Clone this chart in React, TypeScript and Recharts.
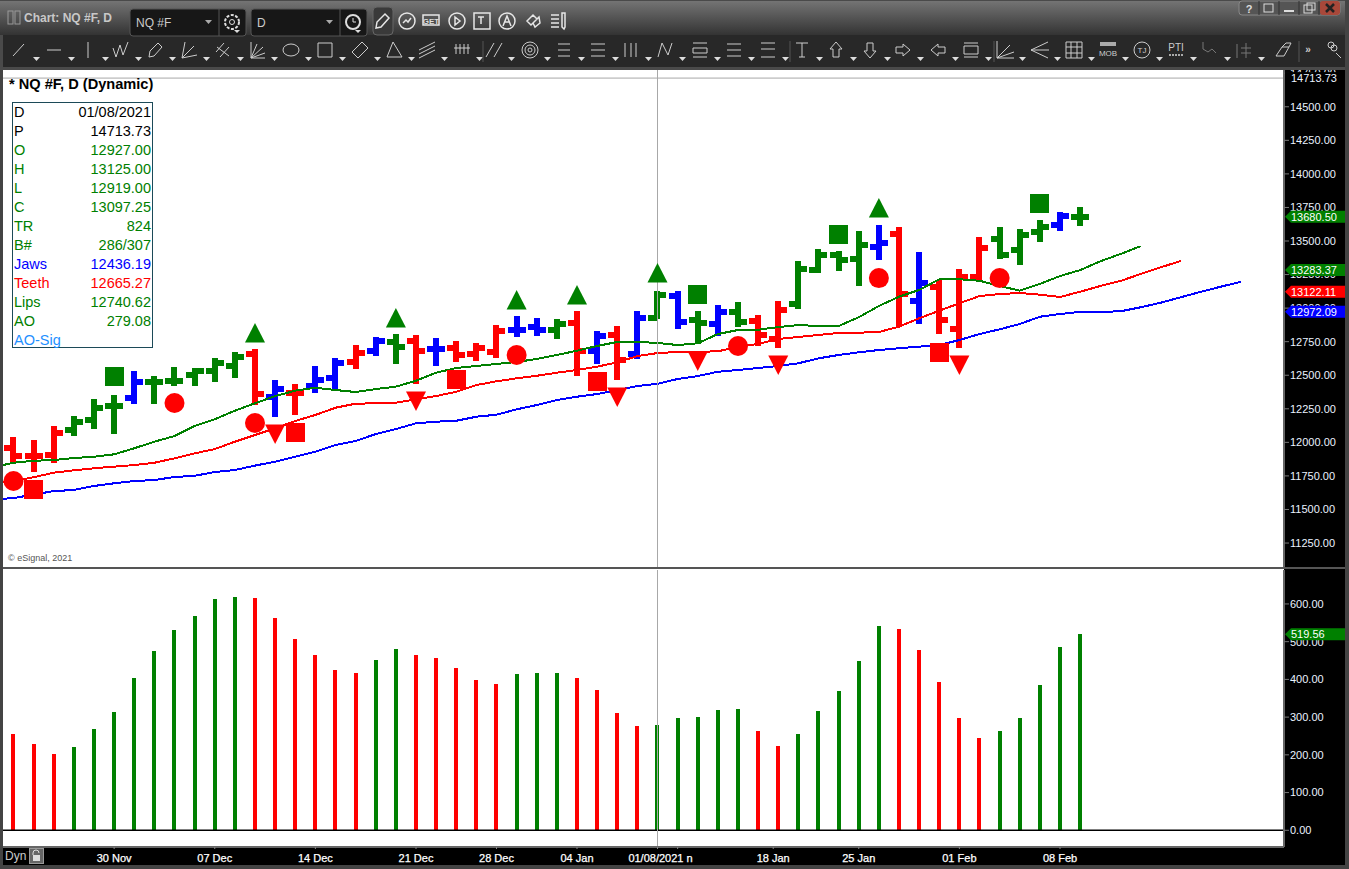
import React from 'react';
import { ComposedChart, Bar, Line, Scatter, Cell, XAxis, YAxis, ReferenceLine, ReferenceDot } from 'recharts';

const FONT = '"Liberation Sans", Arial, sans-serif';

// one label per trading session, bar 0 is 23 Nov
const sessions = [
  '23 Nov', '24 Nov', '25 Nov', '26 Nov', '27 Nov', '30 Nov', '01 Dec', '02 Dec', '03 Dec', '04 Dec', '07 Dec',
  '08 Dec', '09 Dec', '10 Dec', '11 Dec', '14 Dec', '15 Dec', '16 Dec', '17 Dec', '18 Dec', '21 Dec', '22 Dec',
  '23 Dec', '24 Dec', '28 Dec', '29 Dec', '30 Dec', '31 Dec', '04 Jan', '05 Jan', '06 Jan', '07 Jan', '01/08/2021 n',
  '11 Jan', '12 Jan', '13 Jan', '14 Jan', '15 Jan', '18 Jan', '20 Jan', '21 Jan', '22 Jan', '25 Jan', '26 Jan',
  '27 Jan', '28 Jan', '29 Jan', '01 Feb', '02 Feb', '03 Feb', '04 Feb', '05 Feb', '08 Feb', '09 Feb',
];

const highs = [
  12040, 12017, 12122, 12196, 12323, 12353, 12531, 12494, 12561, 12554, 12628, 12673, 12695, 12464, 12435, 12569, 12628, 12725,
  12785, 12807, 12800, 12777, 12755, 12740, 12874, 12941, 12926, 12919, 12978, 12829, 12867, 12978, 13125, 13127, 12978, 13023,
  13046, 12949, 13053, 13351, 13440, 13426, 13575, 13619, 13604, 13418, 13209, 13291, 13530, 13604, 13589, 13656, 13716, 13753,
];
const lows = [
  11846, 11779, 11846, 12047, 12099, 12062, 12286, 12286, 12420, 12420, 12450, 12479, 12278, 12189, 12204, 12368, 12397, 12546,
  12643, 12584, 12435, 12569, 12599, 12606, 12628, 12785, 12792, 12770, 12494, 12584, 12464, 12621, 12919, 12844, 12733, 12792,
  12859, 12718, 12703, 12993, 13262, 13277, 13165, 13358, 12859, 12882, 12807, 12703, 13209, 13366, 13321, 13493, 13575, 13612,
];
const opens = [
  11958, 11898, 11906, 12092, 12166, 12271, 12330, 12450, 12457, 12502, 12531, 12569, 12658, 12338, 12368, 12420, 12479, 12599,
  12680, 12748, 12755, 12695, 12703, 12658, 12673, 12837, 12859, 12837, 12889, 12680, 12800, 12658, 12927, 13090, 12911, 12882,
  12971, 12904, 12770, 13031, 13284, 13396, 13366, 13455, 13552, 13053, 13157, 12844, 13232, 13515, 13433, 13567, 13619, 13680.5,
];
const closes = [
  11898, 11898, 12070, 12152, 12256, 12271, 12450, 12450, 12457, 12531, 12591, 12636, 12360, 12397, 12368, 12464, 12591, 12666,
  12755, 12710, 12680, 12695, 12651, 12703, 12829, 12837, 12837, 12882, 12680, 12792, 12613, 12926, 13097.25, 12897, 12889, 12971,
  12897, 12800, 12986, 13291, 13396, 13358, 13470, 13485, 13105, 13187, 12911, 13232, 13448, 13396, 13545, 13604, 13686, 13680.5,
];
const tones = [
  'r', 'r', 'r', 'g', 'g', 'g', 'b', 'g', 'g', 'g', 'g', 'g', 'r', 'b', 'r', 'b', 'b', 'r',
  'b', 'g', 'r', 'b', 'r', 'r', 'r', 'b', 'b', 'g', 'r', 'b', 'r', 'b', 'g', 'b', 'g', 'b',
  'g', 'r', 'r', 'g', 'g', 'g', 'g', 'b', 'r', 'b', 'r', 'r', 'r', 'g', 'g', 'g', 'b', 'g',
];

// the first value of each line sits one session before bar 0, they run past the last bar
const lips = [
  11815, 11848, 11863, 11868, 11883, 11893, 11911, 11956, 12005, 12047, 12122, 12172, 12236, 12291, 12345, 12385, 12407, 12390, 12375, 12397,
  12415, 12459, 12519, 12554, 12569, 12584, 12599, 12621, 12651, 12683, 12718, 12748, 12748, 12740.62, 12725, 12738, 12807, 12837, 12839, 12859,
  12874, 12867, 12867, 12932, 13016, 13085, 13135, 13215, 13215, 13204, 13165, 13130, 13180, 13239, 13283.37, 13349, 13403, 13461,
];
const teeth = [
  11690, 11712, 11740, 11774, 11792, 11807, 11819, 11831, 11848, 11881, 11918, 11950, 12005, 12055, 12105, 12159, 12204, 12258, 12288, 12291,
  12295, 12321, 12345, 12377, 12427, 12455, 12477, 12496, 12519, 12539, 12564, 12596, 12643, 12665.27, 12673, 12675, 12678, 12713, 12733, 12770,
  12785, 12800, 12815, 12817, 12822, 12862, 12924, 12981, 13036, 13090, 13105, 13113, 13100, 13083, 13122.11, 13165, 13202, 13254, 13304, 13351,
];
const jaws = [
  11575, 11585, 11611, 11637, 11645, 11675, 11695, 11712, 11719, 11742, 11751, 11779, 11794, 11827, 11856, 11893, 11930, 11980, 12010, 12062,
  12099, 12142, 12154, 12161, 12191, 12206, 12246, 12278, 12315, 12340, 12360, 12390, 12420, 12436.19, 12472, 12494, 12526, 12539, 12554, 12569,
  12589, 12626, 12651, 12671, 12688, 12701, 12713, 12725, 12762, 12807, 12842, 12882, 12936, 12956, 12972.09, 12973, 12976, 13006, 13040, 13081,
  13122, 13160, 13197,
];

const aoValues = [
  254, 228, 201, 220, 268, 313, 405, 474, 530, 567, 612, 618, 615, 562, 506, 464, 424, 416, 451, 480, 464, 456, 429, 398, 387, 414, 416,
  416, 405, 371, 310, 276, 279.08, 297, 300, 318, 321, 262, 223, 255, 316, 368, 448, 541, 533, 477, 392, 297, 244, 262, 298, 385, 485, 519.56,
];

const circleMarks = [
  { x: 0, y: 11712 }, { x: 8, y: 12293 }, { x: 12, y: 12144 }, { x: 25, y: 12651 }, { x: 36, y: 12718 }, { x: 43, y: 13224 }, { x: 49, y: 13224 },
];
const redSquares = [
  { x: 1, y: 11652 }, { x: 14, y: 12077 }, { x: 22, y: 12472 }, { x: 29, y: 12457 }, { x: 46, y: 12673 },
];
const greenSquares = [
  { x: 5, y: 12487 }, { x: 34, y: 13105 }, { x: 41, y: 13552 }, { x: 51, y: 13783 },
];
const upTriangles = [
  { x: 12, y: 12815 }, { x: 19, y: 12926 }, { x: 25, y: 13060 }, { x: 28, y: 13098 }, { x: 32, y: 13262 }, { x: 43, y: 13746 },
];
const downTriangles = [
  { x: 13, y: 12062 }, { x: 20, y: 12308 }, { x: 30, y: 12338 }, { x: 34, y: 12606 }, { x: 38, y: 12576 }, { x: 47, y: 12576 },
];

const priceTicks = [11250, 11500, 11750, 12000, 12250, 12500, 12750, 13000, 13250, 13500, 13750, 14000, 14250, 14500, 14750];
const aoTicks = [0, 100, 200, 300, 400, 500, 600];
// 18 Jan sits a little ahead of its bar in the reference, 33 only has a tick mark
const dateTicks = [5, 10, 15, 20, 24, 28, 32, 33, 37.75, 42, 47, 52];

const legendRows = [
  ['D', '01/08/2021', '#000'],
  ['P', '14713.73', '#000'],
  ['O', '12927.00', '#008000'],
  ['H', '13125.00', '#008000'],
  ['L', '12919.00', '#008000'],
  ['C', '13097.25', '#008000'],
  ['TR', '824', '#008000'],
  ['B#', '286/307', '#008000'],
  ['Jaws', '12436.19', '#0000ff'],
  ['Teeth', '12665.27', '#ff0000'],
  ['Lips', '12740.62', '#008000'],
  ['AO', '279.08', '#008000'],
  ['AO-Sig', '', '#1e90ff'],
];

const TONE: Record<string, string> = { r: '#ff0000', g: '#008000', b: '#0000ff' };
const X_DOMAIN: [number, number] = [-0.522, 63.13];
const PRICE_DOMAIN: [number, number] = [11064, 14774];
const AO_DOMAIN: [number, number] = [-44.3, 690];
const CURSOR = 32;

const priceRows = jaws.map((_, i) => {
  const s = i - 1;
  return {
    x: s,
    range: s >= 0 && s < highs.length ? [lows[s], highs[s]] : null,
    high: highs[s],
    low: lows[s],
    open: opens[s],
    close: closes[s],
    tone: tones[s],
    lips: lips[i] ?? null,
    teeth: teeth[i] ?? null,
    jaws: jaws[i] ?? null,
  };
});
const aoRows = aoValues.map((ao, x) => ({ x, ao }));

const OhlcShape = (props: any) => {
  const { x, y, width, height, payload } = props;
  if (!payload || payload.high == null || !height) return null;
  const top = Math.min(y, y + height);
  const h = Math.abs(height);
  const perUnit = h / (payload.high - payload.low);
  const cx = x + width / 2;
  const openY = top + (payload.high - payload.open) * perUnit;
  const closeY = top + (payload.high - payload.close) * perUnit;
  const fill = TONE[payload.tone];
  return (
    <g shapeRendering="crispEdges" fill={fill}>
      <rect x={cx - 3} y={top} width={6} height={h} />
      <rect x={cx - 9} y={openY - 3} width={9} height={6} />
      <rect x={cx} y={closeY - 3} width={9} height={6} />
    </g>
  );
};

const CircleMark = ({ cx, cy }: any) => <circle cx={cx} cy={cy} r={10} fill="#ff0000" />;
const squareMark = (fill: string) => ({ cx, cy }: any) => (
  <rect x={cx - 9.5} y={cy - 9.5} width={19} height={19} fill={fill} shapeRendering="crispEdges" />
);
const UpMark = ({ cx, cy }: any) => <path d={`M${cx} ${cy - 10}L${cx + 10} ${cy + 9.5}H${cx - 10}Z`} fill="#008000" />;
const DownMark = ({ cx, cy }: any) => <path d={`M${cx - 10} ${cy - 9.5}H${cx + 10}L${cx} ${cy + 10}Z`} fill="#ff0000" />;

const priceTag = (value: string, fill: string) => ({ cx, cy }: any) => (
  <g>
    <path d={`M${cx + 1} ${cy}L${cx + 7} ${cy - 6}H${cx + 61}V${cy + 6}H${cx + 7}Z`} fill={fill} />
    <text x={cx + 7} y={cy + 4} fontSize={11} fontFamily={FONT} fill="#fff">{value}</text>
  </g>
);
const plainTag = (value: string) => ({ cx, cy }: any) => (
  <g>
    <rect x={cx + 1} y={cy - 6} width={60} height={13} fill="#000" />
    <text x={cx + 7} y={cy + 4} fontSize={11} fontFamily={FONT} fill="#eaf2ff">{value}</text>
  </g>
);

const axisTick = { fill: '#eaf2ff', fontSize: 11, fontFamily: FONT };

const DateTick = ({ x, y, payload }: any) => {
  const slot = payload.value;
  const label = slot === 33 ? '' : sessions[Math.round(slot)];
  return (
    <text
      x={slot === CURSOR ? x + 3 : x}
      y={y + 10}
      textAnchor="middle"
      fontSize={11}
      fontFamily={FONT}
      fill="#fff"
      stroke="#fff"
      strokeWidth={0.25}
    >
      {label}
    </text>
  );
};

const PriceChart = () => (
  <ComposedChart width={1342} height={498} data={priceRows} margin={{ top: 0, right: 0, bottom: 0, left: 0 }}>
    <XAxis dataKey="x" type="number" domain={X_DOMAIN} allowDataOverflow hide />
    <YAxis
      orientation="right"
      width={61}
      domain={PRICE_DOMAIN}
      allowDataOverflow
      ticks={priceTicks}
      interval={0}
      tickFormatter={(v: number) => v.toFixed(2)}
      tick={axisTick}
      tickSize={5}
      tickMargin={1}
      tickLine={{ stroke: '#777' }}
      axisLine={{ stroke: '#666', strokeWidth: 2 }}
    />
    <Scatter data={downTriangles} dataKey="y" shape={DownMark} isAnimationActive={false} />
    <Line dataKey="jaws" stroke="#0000ff" strokeWidth={2} dot={false} shapeRendering="crispEdges" isAnimationActive={false} />
    <Line dataKey="teeth" stroke="#ff0000" strokeWidth={2} dot={false} shapeRendering="crispEdges" isAnimationActive={false} />
    <Line dataKey="lips" stroke="#008000" strokeWidth={2} dot={false} shapeRendering="crispEdges" isAnimationActive={false} />
    <Bar dataKey="range" barSize={6} shape={OhlcShape} isAnimationActive={false} />
    <Scatter data={upTriangles} dataKey="y" shape={UpMark} isAnimationActive={false} />
    <Scatter data={redSquares} dataKey="y" shape={squareMark('#ff0000')} isAnimationActive={false} />
    <Scatter data={greenSquares} dataKey="y" shape={squareMark('#008000')} isAnimationActive={false} />
    <Scatter data={circleMarks} dataKey="y" shape={CircleMark} isAnimationActive={false} />
    <ReferenceLine y={14713.73} stroke="#a8a8a8" />
    <ReferenceLine x={CURSOR} stroke="#a8a8a8" />
  </ComposedChart>
);

// value tags cover the axis labels, so they go in a layer of their own above the charts
const PriceTags = () => (
  <ComposedChart width={1342} height={498} data={priceRows} margin={{ top: 0, right: 61, bottom: 0, left: 0 }}>
    <XAxis dataKey="x" type="number" domain={X_DOMAIN} allowDataOverflow hide />
    <YAxis domain={PRICE_DOMAIN} allowDataOverflow hide />
    <ReferenceDot x={X_DOMAIN[1]} y={14713.73} r={0} ifOverflow="visible" shape={plainTag('14713.73')} />
    <ReferenceDot x={X_DOMAIN[1]} y={13680.5} r={0} ifOverflow="visible" shape={priceTag('13680.50', '#008000')} />
    <ReferenceDot x={X_DOMAIN[1]} y={13283.37} r={0} ifOverflow="visible" shape={priceTag('13283.37', '#008000')} />
    <ReferenceDot x={X_DOMAIN[1]} y={13122.11} r={0} ifOverflow="visible" shape={priceTag('13122.11', '#ff0000')} />
    <ReferenceDot x={X_DOMAIN[1]} y={12972.09} r={0} ifOverflow="visible" shape={priceTag('12972.09', '#0000ff')} />
  </ComposedChart>
);

const AoChart = () => (
  <ComposedChart width={1342} height={295} data={aoRows} margin={{ top: 0, right: 0, bottom: 0, left: 0 }}>
    <XAxis
      dataKey="x"
      type="number"
      domain={X_DOMAIN}
      allowDataOverflow
      height={18}
      ticks={dateTicks}
      interval={0}
      minTickGap={0}
      tick={DateTick}
      tickSize={2}
      tickMargin={3}
      tickLine={{ stroke: '#888' }}
      axisLine={{ stroke: '#666', strokeWidth: 2 }}
    />
    <YAxis
      orientation="right"
      width={61}
      domain={AO_DOMAIN}
      allowDataOverflow
      ticks={aoTicks}
      interval={0}
      tickFormatter={(v: number) => v.toFixed(2)}
      tick={axisTick}
      tickSize={5}
      tickMargin={1}
      tickLine={{ stroke: '#777' }}
      axisLine={{ stroke: '#666', strokeWidth: 2 }}
    />
    <Bar dataKey="ao" barSize={4} shapeRendering="crispEdges" isAnimationActive={false}>
      {aoRows.map((row, i) => (
        <Cell key={row.x} fill={i > 0 && row.ao >= aoRows[i - 1].ao ? '#008000' : '#ff0000'} />
      ))}
    </Bar>
    <ReferenceLine y={0} stroke="#000" strokeWidth={1.5} />
    <ReferenceLine x={CURSOR} stroke="#a8a8a8" />
  </ComposedChart>
);

const AoTags = () => (
  <ComposedChart width={1342} height={295} data={aoRows} margin={{ top: 0, right: 61, bottom: 18, left: 0 }}>
    <XAxis dataKey="x" type="number" domain={X_DOMAIN} allowDataOverflow hide />
    <YAxis domain={AO_DOMAIN} allowDataOverflow hide />
    <ReferenceDot x={X_DOMAIN[1]} y={519.56} r={0} ifOverflow="visible" shape={priceTag('519.56', '#008000')} />
  </ComposedChart>
);

// toolbar glyphs, drawn around their own centre
const toolIcons: [number, string][] = [
  [19, 'M-6 6L5 -6'],
  [54, 'M-7 0H7'],
  [88, 'M0 -8V8'],
  [121, 'M-8 -2L-5 7L-1 -5L2 5L7 -8'],
  [155, 'M-6 7L-5 1L3 -7L7 -3L-1 6Z'],
  [189, 'M-7 8L-4 -8M-7 8L5 -4M-7 8L8 5'],
  [223, 'M-7 2L1 -7M-3 7L6 -3M-6 -3L6 6'],
  [257, 'M-6 -8V8H8M-6 8L6 -3M-6 8L8 3M-6 8L0 -6'],
  [291, 'M-8 0a8 6 0 1 0 16 0a8 6 0 1 0 -16 0'],
  [325, 'M-7 -7H7V7H-7Z'],
  [360, 'M-8 2L2 -8L8 -2L-2 8Z'],
  [394, 'M-7 7L-1 -8L8 7Z'],
  [427, 'M-8 4L8 -4M-8 0L8 -8M-8 8L8 0'],
  [462, 'M-8 -2H8M-6 -6V4M-2 -6V4M2 -6V4M6 -6V4'],
  [494, 'M-8 7L0 -7M0 7L8 -7'],
  [530, 'M-8 0a8 8 0 1 0 16 0a8 8 0 1 0 -16 0M-5 0a5 5 0 1 0 10 0a5 5 0 1 0 -10 0M-2 0a2 2 0 1 0 4 0a2 2 0 1 0 -4 0'],
  [564, 'M-6 -6H6M-6 0H6M-6 6H6'],
  [598, 'M-7 -6H7M-7 0H7M-7 6H7'],
  [631, 'M-6 -7V7M0 -7V7M5 -7V7'],
  [665, 'M-7 7L-3 -7L3 5L7 -7'],
  [700, 'M-7 -7H7M-7 7H7M-7 -2H7V3H-7Z'],
  [734, 'M-7 -6H7M-7 0H7M-7 6H7'],
  [768, 'M-7 -7H7M-7 -1H7M-7 7H7'],
  [802, 'M-6 -7H6M0 -7V7M-3 7H3'],
  [836, 'M0 -8L6 -1H3V7H-3V-1H-6Z'],
  [870, 'M0 8L6 1H3V-7H-3V1H-6Z'],
  [903, 'M7 0L0 -6V-3H-7V3H0V6Z'],
  [938, 'M-7 0L0 -6V-3H7V3H0V6Z'],
  [971, 'M-7 -7H7M-7 7H7M-7 -4H7V4H-7Z'],
  [1005, 'M-8 -9V8H9M-8 8L5 -5M-8 8L9 2'],
  [1040, 'M-9 0L8 -8M-9 0L9 0M-9 0L8 8'],
  [1074, 'M-8 -8H8V8H-8ZM-8 -3H8M-8 3H8M-3 -8V8M3 -8V8'],
  [1210, 'M-7 -8V-1L-2 2L2 -1L6 3'],
  [1244, 'M-7 -6V8M-3 -2H7M-3 3H7M2 -7V8'],
];
const noArrowIcons: [number, string][] = [
  [1282, 'M-6 6L0 -3L7 -3L2 6ZM0 -3L4 -7H9L7 -3'],
  [1333, 'M-5 -5a3 3 0 1 0 6 0a3 3 0 1 0 -6 0M-2 -2a3 3 0 1 0 6 0a3 3 0 1 0 -6 0M3 3L8 8'],
];
const titleIcons: [number, string][] = [
  [382, 'M-6 7L-5 1L3 -7L7 -3L-1 6Z'],
  [407, 'M-8 0a8 8 0 1 0 16 0a8 8 0 1 0 -16 0M-4 2L-1 -1L1 1L4 -3'],
  [431, 'M-8 -6H8V4H-8Z'],
  [457, 'M-8 0a8 8 0 1 0 16 0a8 8 0 1 0 -16 0M-2 -4L3 0L-2 4Z'],
  [482, 'M-8 -8H8V8H-8ZM-4 -4H2M-1 -4V3'],
  [507, 'M-8 0a8 8 0 1 0 16 0a8 8 0 1 0 -16 0M-4 5L0 -5L4 5M-2 1H2'],
  [533, 'M-6 0L0 -6L4 -2L-2 4ZM0 2L6 -4L7 2L2 6Z'],
  [558, 'M-7 -6H1M-7 -2H1M-7 2H1M-7 6H1M4 -8V6L6 8L7 6V-8Z'],
];

const dropdown = (x: number, label: string, hands: boolean) => (
  <g>
    <rect x={x} y={9} width={116} height={27} rx={3} fill="#171717" stroke="#555" />
    <text x={x + 6} y={27} fontSize={12} fontFamily={FONT} fill="#ccc">{label}</text>
    <path d={`M${x + 75} 20h7l-3.5 4Z`} fill="#aaa" />
    <line x1={x + 89} y1={9} x2={x + 89} y2={36} stroke="#555" />
    <circle cx={x + 102} cy={22} r={7} fill="none" stroke="#ddd" strokeWidth={2} strokeDasharray={hands ? undefined : '3 1.5'} />
    {hands ? <path d={`M${x + 102} 18v4h3`} fill="none" stroke="#ddd" /> : <circle cx={x + 102} cy={22} r={2.5} fill="none" stroke="#ddd" />}
    <path d={`M${x + 104} 30h6l-3 3Z`} fill="#ddd" />
  </g>
);

const Chrome = () => (
  <svg width={1349} height={70} style={{ position: 'absolute', left: 0, top: 0 }}>
    <defs>
      <linearGradient id="titleBar" x1="0" y1="0" x2="0" y2="1">
        <stop offset="0" stopColor="#747474" />
        <stop offset="1" stopColor="#333" />
      </linearGradient>
    </defs>
    <rect width={1349} height={70} fill="#4a4a4a" />
    <rect x={0} y={1} width={1349} height={34} fill="url(#titleBar)" />
    <rect x={3} y={35} width={1343} height={32} fill="#282828" />
    <rect x={8} y={11} width={5} height={13} fill="none" stroke="#999" />
    <rect x={15} y={11} width={5} height={13} fill="none" stroke="#999" />
    <text x={24} y={22} fontSize={12} fontWeight={700} fontFamily={FONT} fill="#c8c8c8">Chart: NQ #F, D</text>
    {dropdown(130, 'NQ #F', false)}
    {dropdown(251, 'D', true)}
    <rect x={373} y={7} width={20} height={28} rx={4} fill="#3a3a3a" stroke="#666" />
    {titleIcons.map(([x, d]) => (
      <path key={x} d={d} transform={`translate(${x} 21)`} fill="none" stroke="#e6e6e6" strokeWidth={1.5} />
    ))}
    <text x={431} y={24} textAnchor="middle" fontSize={8} fontWeight={700} fontFamily={FONT} fill="#ddd">GET</text>
    {toolIcons.map(([x, d]) => (
      <g key={x} transform={`translate(${x} 50)`}>
        <path d={d} fill="none" stroke={x >= 1210 ? '#777' : '#ccc'} />
        <path d="M14 7h7l-3.5 4Z" fill="#ddd" />
      </g>
    ))}
    {noArrowIcons.map(([x, d]) => (
      <path key={x} d={d} transform={`translate(${x} 50)`} fill="none" stroke="#ccc" />
    ))}
    {[1108, 1142, 1176].map((x) => (
      <path key={x} d="M14 7h7l-3.5 4Z" transform={`translate(${x} 50)`} fill="#ddd" />
    ))}
    <path d="M1100 43h16M1100 45h16" stroke="#aaa" strokeWidth={2} />
    <text x={1108} y={56} textAnchor="middle" fontSize={8} fontFamily={FONT} fill="#ccc">MOB</text>
    <circle cx={1142} cy={50} r={8} fill="none" stroke="#ccc" />
    <text x={1142} y={53} textAnchor="middle" fontSize={8} fontFamily={FONT} fill="#ccc">TJ</text>
    <text x={1176} y={51} textAnchor="middle" fontSize={10} fontFamily={FONT} fill="#ccc">PTI</text>
    <path d="M1169 55h14" stroke="#aaa" strokeWidth={2} strokeDasharray="2 1" />
    <text x={1308} y={53} textAnchor="middle" fontSize={10} fontWeight={700} fontFamily={FONT} fill="#ccc">»</text>
    {[483, 790, 994, 1299].map((x) => (
      <line key={x} x1={x} y1={41} x2={x} y2={62} stroke="#555" />
    ))}
    <rect x={1239} y={1} width={101} height={14} rx={3} fill="#555" stroke="#888" />
    <rect x={1320} y={1} width={20} height={14} rx={3} fill="#a8483a" />
    {[1259, 1279, 1299, 1319].map((x) => (
      <line key={x} x1={x} y1={1} x2={x} y2={15} stroke="#333" />
    ))}
    <text x={1249} y={13} textAnchor="middle" fontSize={11} fontWeight={700} fontFamily={FONT} fill="#ddd">?</text>
    <rect x={1264} y={4} width={9} height={8} fill="none" stroke="#ddd" />
    <path d="M1284 11h10" stroke="#ddd" strokeWidth={2} />
    <rect x={1304} y={5} width={8} height={8} fill="none" stroke="#ddd" />
    <rect x={1307} y={3} width={8} height={7} fill="none" stroke="#ddd" />
    <path d="M1326 4l8 8M1334 4l-8 8" stroke="#222" strokeWidth={2.5} />
  </svg>
);

export default function App() {
  return (
    <div style={{ position: 'absolute', left: 0, top: 0, width: 1349, height: 869, background: '#000', overflow: 'hidden', fontFamily: FONT }}>
      <div style={{ position: 'absolute', left: 3, top: 70, width: 1281, height: 777, background: '#fff' }} />
      <div style={{ position: 'absolute', left: 3, top: 70 }}><PriceChart /></div>
      <div style={{ position: 'absolute', left: 3, top: 570 }}><AoChart /></div>
      <div style={{ position: 'absolute', left: 3, top: 70 }}><PriceTags /></div>
      <div style={{ position: 'absolute', left: 3, top: 570 }}><AoTags /></div>
      <div style={{ position: 'absolute', left: 3, top: 567, width: 1342, height: 2, background: '#555' }} />

      <div style={{ position: 'absolute', left: 9, top: 76, fontSize: 14.6, fontWeight: 700, color: '#000' }}>* NQ #F, D (Dynamic)</div>
      <div style={{ position: 'absolute', left: 12, top: 102, width: 139, height: 244, border: '1px solid #1c4a58', background: '#fff' }}>
        {legendRows.map(([name, value, color]) => (
          <div key={name} style={{ display: 'flex', justifyContent: 'space-between', height: 19, lineHeight: '18px', fontSize: 14.5, color, padding: '0 1px' }}>
            <span>{name}</span>
            <span>{value}</span>
          </div>
        ))}
      </div>
      <div style={{ position: 'absolute', left: 8, top: 553, fontSize: 9, color: '#555' }}>© eSignal, 2021</div>

      <div style={{ position: 'absolute', left: 5, top: 849, fontSize: 12, color: '#ccc' }}>Dyn</div>
      <svg width={15} height={16} style={{ position: 'absolute', left: 29, top: 848 }}>
        <rect x={0.5} y={0.5} width={14} height={15} fill="#666" stroke="#999" />
        <path d="M4 7V5a3 3 0 0 1 6 0" fill="none" stroke="#ddd" />
        <rect x={4} y={7} width={7} height={6} fill="#ddd" />
      </svg>

      <Chrome />
      <div style={{ position: 'absolute', left: 0, top: 70, width: 3, height: 799, background: '#444' }} />
      <div style={{ position: 'absolute', left: 1345, top: 0, width: 4, height: 869, background: '#444' }} />
      <div style={{ position: 'absolute', left: 0, top: 865, width: 1349, height: 4, background: '#444' }} />
    </div>
  );
}
